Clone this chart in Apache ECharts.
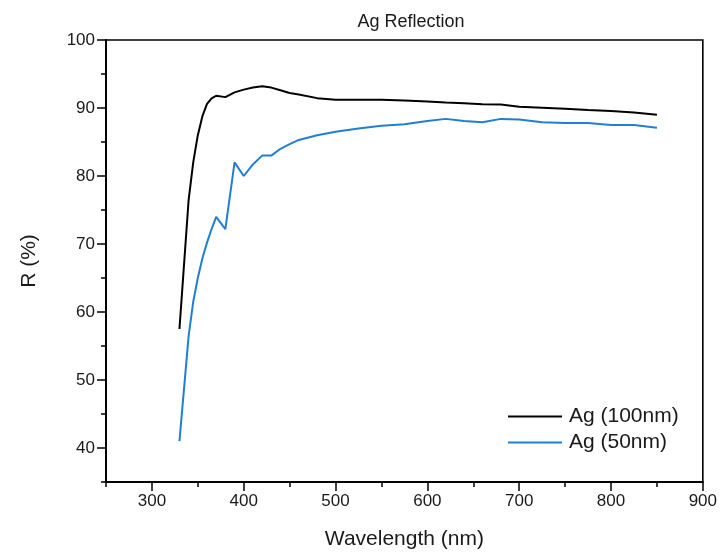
<!DOCTYPE html>
<html>
<head>
<meta charset="utf-8">
<script src="https://cdn.jsdelivr.net/npm/echarts@6/dist/echarts.min.js"></script>
<style>html,body{margin:0;padding:0;background:#fff}#c{width:720px;height:555px}</style>
</head>
<body>
<div id="c"></div>
<script>
const wavelengths = [330,340,345,350,355,360,365,370,380,390,400,410,420,430,440,450,460,480,500,525,550,575,600,620,640,660,680,700,725,750,775,800,825,850];
const ag100 = [57.5,76.5,82.0,86.0,88.8,90.6,91.4,91.8,91.6,92.3,92.7,93.0,93.2,93.0,92.6,92.2,92.0,91.45,91.2,91.2,91.2,91.1,90.95,90.8,90.7,90.55,90.5,90.2,90.05,89.9,89.7,89.55,89.35,89.0];
const ag50 = [41.0,56.5,61.5,65.0,67.9,70.2,72.2,74.0,72.2,82.0,80.0,81.7,83.0,83.0,84.0,84.7,85.3,86.0,86.5,87.0,87.4,87.6,88.1,88.4,88.1,87.9,88.4,88.3,87.9,87.8,87.8,87.5,87.5,87.1];
const xTicks = [300,400,500,600,700,800,900];
const yTicks = [40,50,60,70,80,90,100];
const seriesNames = ['Ag (100nm)','Ag (50nm)'];

const FONT = '"Liberation Sans", Arial, sans-serif';
const chart = echarts.init(document.getElementById('c'), null, {renderer:'canvas'});
const pairs = (ys) => wavelengths.map((w,i)=>[w, ys[i]]);
chart.setOption({
  animation: false,
  backgroundColor: '#fff',
  textStyle: {fontFamily: FONT},
  title: {
    text: 'Ag Reflection', left: 406, textAlign: 'center', top: 8,
    textStyle: {fontFamily: FONT, fontSize: 18, fontWeight: 'normal', color: '#1a1a1a'}
  },
  grid: {left: 106, right: 14, top: 40, bottom: 72, show: true, borderColor: '#000', borderWidth: 1.6, containLabel: false},
  legend: {
    data: seriesNames, orient: 'vertical', left: 503, top: 401,
    icon: 'rect', itemWidth: 54, itemHeight: 2, itemGap: 5,
    textStyle: {fontFamily: FONT, fontSize: 21, color: '#1a1a1a', padding: [0,0,0,2]}
  },
  xAxis: [
    {type: 'value', min: 250, max: 900, interval: 50,
     axisLine: {show: true, onZero: false, lineStyle: {color: '#000', width: 2}},
     axisTick: {show: true, length: 5, lineStyle: {color: '#000', width: 1.5}},
     axisLabel: {show: false}, splitLine: {show: false}},
    {type: 'value', min: 250, max: 900, position: 'bottom',
     axisLine: {show: false},
     axisTick: {show: true, customValues: xTicks, length: 9, lineStyle: {color: '#000', width: 1.5}},
     axisLabel: {show: true, customValues: xTicks, fontSize: 17, color: '#1a1a1a', margin: 11, fontFamily: FONT},
     splitLine: {show: false},
     name: 'Wavelength (nm)', nameLocation: 'middle', nameGap: 47,
     nameTextStyle: {fontFamily: FONT, fontSize: 21, color: '#1a1a1a'}}
  ],
  yAxis: [
    {type: 'value', min: 35, max: 100, interval: 5,
     axisLine: {show: true, onZero: false, lineStyle: {color: '#000', width: 2}},
     axisTick: {show: true, length: 5, lineStyle: {color: '#000', width: 1.5}},
     axisLabel: {show: false}, splitLine: {show: false}},
    {type: 'value', min: 35, max: 100, position: 'left',
     axisLine: {show: false},
     axisTick: {show: true, customValues: yTicks, length: 9, lineStyle: {color: '#000', width: 1.5}},
     axisLabel: {show: true, customValues: yTicks, fontSize: 17, color: '#1a1a1a', margin: 11, fontFamily: FONT},
     splitLine: {show: false},
     name: 'R (%)', nameLocation: 'middle', nameGap: 66, nameRotate: 90,
     nameTextStyle: {fontFamily: FONT, fontSize: 21, color: '#1a1a1a'}}
  ],
  series: [
    {name: seriesNames[0], type: 'line', data: pairs(ag100), xAxisIndex: 0, yAxisIndex: 0,
     showSymbol: false, symbol: 'none', lineStyle: {color: '#000', width: 2}, itemStyle: {color: '#000'}},
    {name: seriesNames[1], type: 'line', data: pairs(ag50), xAxisIndex: 0, yAxisIndex: 0,
     showSymbol: false, symbol: 'none', lineStyle: {color: '#1f7fd4', width: 2}, itemStyle: {color: '#1f7fd4'}}
  ]
});
</script>
</body>
</html>
